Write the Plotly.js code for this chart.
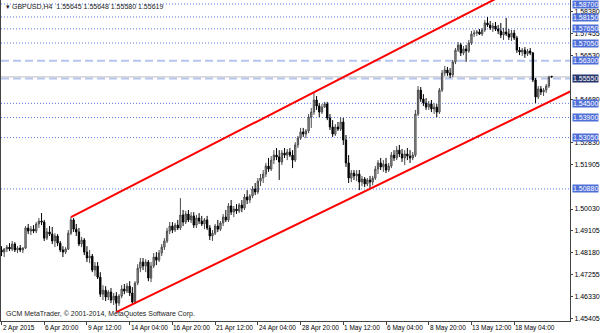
<!DOCTYPE html>
<html><head><meta charset="utf-8">
<script src="https://cdn.plot.ly/plotly-3.0.1.min.js"></script>
<style>html,body{margin:0;padding:0;background:#fff;}#chart{width:600px;height:333px;}</style>
</head><body><div id="chart"></div>
<script>
// GBPUSD H4 bars (2 Apr 2015 -> 20 May 2015)
const openP = [
1.4830,1.4821,1.4834,1.4842,1.4834,1.4855,1.4830,1.4838,1.4830,1.4838,
1.4923,1.4910,1.4918,1.4910,1.4940,1.4952,1.4948,1.4880,1.4906,1.4897,
1.4868,1.4889,1.4859,1.4830,1.4821,1.4834,1.4901,1.4957,1.4918,1.4906,
1.4855,1.4872,1.4821,1.4796,1.4804,1.4745,1.4762,1.4715,1.4643,1.4660,
1.4631,1.4652,1.4618,1.4635,1.4605,1.4635,1.4665,1.4656,1.4677,1.4648,
1.4610,1.4690,1.4753,1.4779,1.4762,1.4779,1.4711,1.4762,1.4800,1.4787,
1.4817,1.4842,1.4868,1.4910,1.4931,1.4914,1.4935,1.4923,1.4978,1.4948,
1.4982,1.4957,1.4974,1.4935,1.4965,1.4952,1.4940,1.4957,1.4923,1.4889,
1.4901,1.4931,1.4918,1.4944,1.4969,1.4957,1.5016,1.4990,1.5003,1.4995,
1.5020,1.5007,1.5054,1.5041,1.5058,1.5088,1.5075,1.5121,1.5134,1.5151,
1.5185,1.5172,1.5210,1.5231,1.5223,1.5202,1.5240,1.5231,1.5244,1.5231,
1.5210,1.5274,1.5303,1.5329,1.5320,1.5333,1.5392,1.5413,1.5464,1.5439,
1.5413,1.5434,1.5447,1.5388,1.5350,1.5320,1.5350,1.5341,1.5371,1.5295,
1.5198,1.5134,1.5155,1.5143,1.5151,1.5117,1.5130,1.5109,1.5126,1.5117,
1.5134,1.5172,1.5198,1.5181,1.5193,1.5168,1.5185,1.5231,1.5219,1.5252,
1.5236,1.5219,1.5236,1.5227,1.5219,1.5231,1.5405,1.5506,1.5468,1.5451,
1.5434,1.5447,1.5426,1.5434,1.5413,1.5506,1.5578,1.5591,1.5578,1.5570,
1.5625,1.5675,1.5697,1.5663,1.5680,1.5671,1.5705,1.5743,1.5747,1.5752,
1.5743,1.5760,1.5790,1.5781,1.5769,1.5777,1.5764,1.5756,1.5739,1.5752,
1.5743,1.5730,1.5747,1.5726,1.5675,1.5667,1.5675,1.5659,1.5671,1.5663,
1.5549,1.5477,1.5511,1.5498,1.5506,1.5523,1.55645];
const highP = [
1.4846,1.4838,1.4851,1.4859,1.4868,1.4863,1.4846,1.4851,1.4842,1.4931,
1.4940,1.4931,1.4935,1.4948,1.4965,1.4986,1.4957,1.4923,1.4931,1.4927,
1.4901,1.4897,1.4868,1.4846,1.4842,1.4914,1.4969,1.4965,1.4940,1.4923,
1.4885,1.4880,1.4846,1.4830,1.4813,1.4779,1.4779,1.4736,1.4681,1.4677,
1.4660,1.4669,1.4648,1.4652,1.4643,1.4681,1.4686,1.4690,1.4698,1.4673,
1.4698,1.4770,1.4796,1.4796,1.4791,1.4787,1.4779,1.4817,1.4821,1.4830,
1.4855,1.4880,1.4923,1.4948,1.4948,1.4944,1.4957,1.5049,1.4999,1.4995,
1.4999,1.4990,1.4990,1.4978,1.4986,1.4974,1.4965,1.4974,1.4935,1.4914,
1.4940,1.4957,1.4952,1.4982,1.4999,1.5028,1.5041,1.5016,1.5024,1.5028,
1.5041,1.5066,1.5083,1.5066,1.5100,1.5113,1.5134,1.5151,1.5168,1.5198,
1.5219,1.5227,1.5252,1.5261,1.5252,1.5252,1.5261,1.5257,1.5261,1.5252,
1.5286,1.5312,1.5346,1.5346,1.5341,1.5405,1.5430,1.5494,1.5481,1.5451,
1.5447,1.5456,1.5456,1.5405,1.5379,1.5362,1.5371,1.5392,1.5388,1.5316,
1.5231,1.5168,1.5168,1.5168,1.5168,1.5143,1.5138,1.5134,1.5143,1.5143,
1.5185,1.5210,1.5219,1.5210,1.5219,1.5198,1.5244,1.5252,1.5269,1.5274,
1.5257,1.5252,1.5261,1.5252,1.5244,1.5422,1.5523,1.5519,1.5489,1.5472,
1.5460,1.5464,1.5451,1.5447,1.5515,1.5591,1.5608,1.5604,1.5599,1.5633,
1.5684,1.5709,1.5705,1.5692,1.5697,1.5718,1.5756,1.5760,1.5760,1.5764,
1.5769,1.5802,1.5815,1.5798,1.5790,1.5794,1.5781,1.5790,1.5769,1.5811,
1.5764,1.5760,1.5760,1.5735,1.5688,1.5684,1.5688,1.5680,1.5684,1.5667,
1.5557,1.5523,1.5523,1.5515,1.5532,1.5566,1.55648];
const lowP = [
1.4804,1.4800,1.4821,1.4825,1.4825,1.4821,1.4817,1.4821,1.4817,1.4834,
1.4897,1.4893,1.4901,1.4901,1.4923,1.4935,1.4868,1.4872,1.4889,1.4855,
1.4842,1.4846,1.4821,1.4800,1.4813,1.4830,1.4893,1.4906,1.4889,1.4846,
1.4842,1.4808,1.4779,1.4774,1.4736,1.4720,1.4707,1.4631,1.4618,1.4614,
1.4618,1.4605,1.4597,1.4567,1.4593,1.4626,1.4643,1.4648,1.4635,1.4601,
1.4601,1.4681,1.4736,1.4745,1.4736,1.4698,1.4694,1.4753,1.4766,1.4779,
1.4804,1.4830,1.4859,1.4897,1.4901,1.4906,1.4914,1.4914,1.4931,1.4940,
1.4948,1.4944,1.4923,1.4923,1.4940,1.4931,1.4918,1.4914,1.4872,1.4868,
1.4893,1.4906,1.4910,1.4931,1.4948,1.4948,1.4978,1.4969,1.4982,1.4986,
1.4990,1.4999,1.5024,1.5028,1.5049,1.5062,1.5066,1.5100,1.5113,1.5138,
1.5160,1.5164,1.5193,1.5210,1.5126,1.5189,1.5219,1.5210,1.5223,1.5176,
1.5202,1.5261,1.5295,1.5308,1.5303,1.5324,1.5346,1.5401,1.5422,1.5392,
1.5405,1.5430,1.5379,1.5337,1.5308,1.5312,1.5333,1.5333,1.5274,1.5181,
1.5113,1.5117,1.5126,1.5121,1.5083,1.5100,1.5096,1.5100,1.5092,1.5104,
1.5126,1.5151,1.5168,1.5160,1.5155,1.5160,1.5176,1.5206,1.5210,1.5223,
1.5202,1.5189,1.5210,1.5198,1.5210,1.5223,1.5396,1.5456,1.5439,1.5422,
1.5422,1.5413,1.5405,1.5392,1.5405,1.5498,1.5566,1.5566,1.5557,1.5561,
1.5616,1.5667,1.5650,1.5654,1.5625,1.5663,1.5697,1.5730,1.5735,1.5739,
1.5735,1.5752,1.5773,1.5760,1.5752,1.5756,1.5743,1.5726,1.5718,1.5735,
1.5718,1.5714,1.5718,1.5663,1.5654,1.5650,1.5642,1.5650,1.5654,1.5540,
1.5451,1.5468,1.5485,1.5481,1.5494,1.5515,1.55580];
const closeP = [
1.4821,1.4834,1.4842,1.4834,1.4855,1.4830,1.4838,1.4830,1.4838,1.4923,
1.4910,1.4918,1.4910,1.4940,1.4952,1.4948,1.4880,1.4906,1.4897,1.4868,
1.4889,1.4859,1.4830,1.4821,1.4834,1.4901,1.4957,1.4918,1.4906,1.4855,
1.4872,1.4821,1.4796,1.4804,1.4745,1.4762,1.4715,1.4643,1.4660,1.4631,
1.4652,1.4618,1.4635,1.4605,1.4635,1.4665,1.4656,1.4677,1.4648,1.4610,
1.4690,1.4753,1.4779,1.4762,1.4779,1.4711,1.4762,1.4800,1.4787,1.4817,
1.4842,1.4868,1.4910,1.4931,1.4914,1.4935,1.4923,1.4978,1.4948,1.4982,
1.4957,1.4974,1.4935,1.4965,1.4952,1.4940,1.4957,1.4923,1.4889,1.4901,
1.4931,1.4918,1.4944,1.4969,1.4957,1.5016,1.4990,1.5003,1.4995,1.5020,
1.5007,1.5054,1.5041,1.5058,1.5088,1.5075,1.5121,1.5134,1.5151,1.5185,
1.5172,1.5210,1.5231,1.5223,1.5202,1.5240,1.5231,1.5244,1.5231,1.5210,
1.5274,1.5303,1.5329,1.5320,1.5333,1.5392,1.5413,1.5464,1.5439,1.5413,
1.5434,1.5447,1.5388,1.5350,1.5320,1.5350,1.5341,1.5371,1.5295,1.5198,
1.5134,1.5155,1.5143,1.5151,1.5117,1.5130,1.5109,1.5126,1.5117,1.5134,
1.5172,1.5198,1.5181,1.5193,1.5168,1.5185,1.5231,1.5219,1.5252,1.5236,
1.5219,1.5236,1.5227,1.5219,1.5231,1.5405,1.5506,1.5468,1.5451,1.5434,
1.5447,1.5426,1.5434,1.5413,1.5506,1.5578,1.5591,1.5578,1.5570,1.5625,
1.5675,1.5697,1.5663,1.5680,1.5671,1.5705,1.5743,1.5747,1.5752,1.5743,
1.5760,1.5790,1.5781,1.5769,1.5777,1.5764,1.5756,1.5739,1.5752,1.5743,
1.5730,1.5747,1.5726,1.5675,1.5667,1.5675,1.5659,1.5671,1.5663,1.5549,
1.5477,1.5511,1.5498,1.5506,1.5523,1.5561,1.55619];

const tickBars = [0,16,32,48,64,80,96,112,128,144,160,176,192];
const tickLabels = ['2 Apr 2015','6 Apr 20:00','9 Apr 12:00','14 Apr 04:00','16 Apr 20:00','21 Apr 12:00','24 Apr 04:00','28 Apr 20:00','1 May 12:00','6 May 04:00','8 May 20:00','13 May 12:00','18 May 04:00'];
const priceTicks = [1.58380,1.57455,1.56530,1.54680,1.52830,1.51905,1.50030,1.49105,1.48180,1.47255,1.46330,1.45405];
const priceTickText = ['1.58380','1.57455','1.56530','1.54680','1.52830','1.51905','1.50030','1.49105','1.48180','1.47255','1.46330','1.45405'];
const levelsDotted = [1.5870,1.5815,1.5765,1.5705,1.5450,1.5390,1.5305,1.5088];
const levelsDashed = [1.5630,1.5555];
const bidPrice = 1.55619;
const upperChannelBars = [26, 213];
const upperChannelPrices = [1.4969, 1.6054];
const lowerChannelBars = [43, 213];
const lowerChannelPrices = [1.4567, 1.5500];
const titleText = '\u25BE GBPUSD,H4  1.55645 1.55648 1.55580 1.55619';
const copyrightText = 'GCM MetaTrader, \u00A9 2001-2014, MetaQuotes Software Corp.';

const barIdx = openP.map((_, i) => i);
const FONT = '"Liberation Sans", Arial, sans-serif';

const traces = [
  {type:'candlestick', x:barIdx, open:openP, high:highP, low:lowP, close:closeP,
   increasing:{line:{color:'#4a4a4a', width:1}, fillcolor:'#b0b0b0'},
   decreasing:{line:{color:'#000000', width:1}, fillcolor:'#000000'},
   whiskerwidth:0, hoverinfo:'skip', showlegend:false},
  {type:'scatter', mode:'lines', x:upperChannelBars, y:upperChannelPrices,
   line:{color:'#ff0000', width:2}, hoverinfo:'skip', showlegend:false},
  {type:'scatter', mode:'lines', x:lowerChannelBars, y:lowerChannelPrices,
   line:{color:'#ff0000', width:2}, hoverinfo:'skip', showlegend:false}
];

const shapes = [];
levelsDotted.forEach(v => shapes.push({type:'line', xref:'paper', x0:0, x1:1, yref:'y', y0:v, y1:v,
  line:{color:'#5b78e2', width:1, dash:'1px,2px'}, layer:'below'}));
levelsDashed.forEach(v => shapes.push({type:'line', xref:'paper', x0:0, x1:1, yref:'y', y0:v, y1:v,
  line:{color:'#b6c4f0', width:2, dash:'8px,4px'}, layer:'below'}));
shapes.push({type:'line', xref:'paper', x0:0, x1:1, yref:'y', y0:bidPrice, y1:bidPrice,
  line:{color:'#c0c0c0', width:1}, layer:'below'});

const annotations = [];
levelsDotted.concat(levelsDashed).forEach(v => annotations.push({
  xref:'paper', x:1, xanchor:'left', xshift:2, yref:'y', y:v, yanchor:'middle',
  text:v.toFixed(5), showarrow:false, bgcolor: v===1.5555 ? '#26356a' : '#4f6fd8',
  font:{family:FONT, size:7, color:'#ffffff'}, borderpad:0}));
tickBars.forEach((b, k) => annotations.push({
  xref:'x', x:b, xanchor:'left', xshift:-1, yref:'paper', y:0, yanchor:'top', yshift:-1,
  text:tickLabels[k], showarrow:false, font:{family:FONT, size:6.5, color:'#000'}}));
annotations.push({xref:'paper', yref:'paper', x:0, y:1, xanchor:'left', yanchor:'top', xshift:3, yshift:-1,
  text:titleText, showarrow:false, font:{family:FONT, size:7, color:'#222'}});
annotations.push({xref:'paper', yref:'paper', x:0, y:0, xanchor:'left', yanchor:'bottom', xshift:3, yshift:1,
  text:copyrightText, showarrow:false, font:{family:FONT, size:7, color:'#222'}});

const layout = {
  width:600, height:333,
  margin:{l:1, r:30, t:0, b:12, pad:0},
  paper_bgcolor:'#ffffff', plot_bgcolor:'#ffffff',
  showlegend:false,
  font:{family:FONT, size:7, color:'#000'},
  xaxis:{range:[-0.19, 212.9], showgrid:false, zeroline:false, showline:true, linecolor:'#444', linewidth:1,
    ticks:'outside', ticklen:3, tickcolor:'#444', tickvals:tickBars, showticklabels:false,
    rangeslider:{visible:false}, fixedrange:true},
  yaxis:{side:'right', range:[1.45296, 1.58869], showgrid:false, zeroline:false, showline:true, mirror:true,
    linecolor:'#444', linewidth:1, ticks:'outside', ticklen:2, tickcolor:'#444',
    tickvals:priceTicks, ticktext:priceTickText, tickfont:{family:FONT, size:7, color:'#000'}, fixedrange:true},
  shapes:shapes, annotations:annotations, boxgap:0.3
};

Plotly.newPlot('chart', traces, layout, {staticPlot:true, displayModeBar:false});
</script>
</body></html>
